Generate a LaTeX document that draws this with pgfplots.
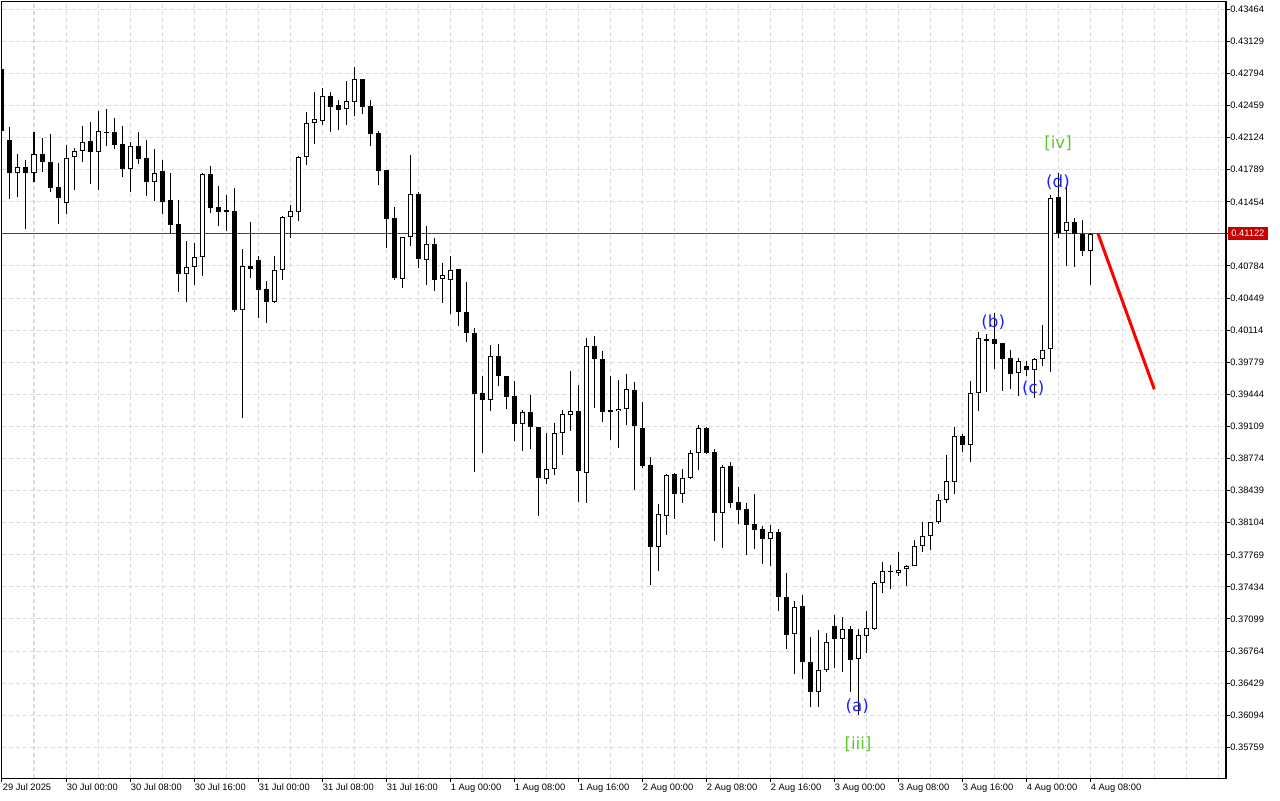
\documentclass[border=0pt]{standalone}
\usepackage{pgfplots}
\pgfplotsset{compat=1.18}
\usepackage{pgfplotstable}
\usepackage{fontspec}
\setmainfont{Liberation Sans}
\newfontfamily\annfont{DejaVu Sans}
\definecolor{gridc}{RGB}{218,218,218}
\definecolor{pricel}{RGB}{150,40,40}
\definecolor{pricebox}{RGB}{200,0,0}
\definecolor{wavegreen}{RGB}{90,200,40}
\definecolor{waveblue}{RGB}{30,30,255}

% bearish (black) candles: k open high low close
\pgfplotstableread{
k o h l c
0 0.42838 0.42851 0.42193 0.42197
1 0.42104 0.42238 0.41480 0.41758
3 0.41815 0.41891 0.41167 0.41752
5 0.41950 0.42124 0.41769 0.41867
6 0.41867 0.42162 0.41560 0.41602
7 0.41609 0.41859 0.41226 0.41491
11 0.42089 0.42287 0.41643 0.41977
13 0.42183 0.42423 0.42040 0.42173
14 0.42180 0.42329 0.42009 0.42050
15 0.42055 0.42246 0.41716 0.41800
17 0.42034 0.42183 0.41852 0.41898
18 0.41908 0.42100 0.41518 0.41664
20 0.41776 0.41891 0.41330 0.41455
21 0.41473 0.41752 0.41125 0.41215
22 0.41223 0.41473 0.40516 0.40704
26 0.41745 0.41828 0.41341 0.41393
27 0.41400 0.41619 0.41205 0.41351
28 0.41366 0.41525 0.41153 0.41351
29 0.41358 0.41598 0.40307 0.40328
31 0.40781 0.41243 0.40662 0.40750
32 0.40844 0.40889 0.40244 0.40537
33 0.40544 0.40628 0.40192 0.40411
41 0.42559 0.42601 0.42186 0.42447
42 0.42465 0.42514 0.42207 0.42413
45 0.42736 0.42740 0.42374 0.42447
46 0.42451 0.42514 0.42040 0.42165
47 0.42173 0.42197 0.41633 0.41773
48 0.41786 0.41789 0.40975 0.41278
49 0.41285 0.41400 0.40638 0.40659
52 0.41533 0.41557 0.40760 0.40852
54 0.41011 0.41073 0.40526 0.40641
57 0.40750 0.40753 0.40161 0.40301
58 0.40301 0.40617 0.39994 0.40088
59 0.40081 0.40137 0.38637 0.39451
60 0.39458 0.39636 0.38835 0.39388
62 0.39841 0.39967 0.39534 0.39639
63 0.39633 0.39640 0.39294 0.39420
64 0.39424 0.39584 0.38960 0.39138
66 0.39257 0.39437 0.38877 0.39106
67 0.39103 0.39106 0.38177 0.38574
72 0.39270 0.39542 0.38323 0.38647
74 0.39949 0.40053 0.39305 0.39816
75 0.39813 0.39897 0.39159 0.39263
76 0.39276 0.39636 0.38971 0.39265
79 0.39486 0.39570 0.38449 0.39117
80 0.39093 0.39364 0.38672 0.38699
81 0.38703 0.38787 0.37457 0.37854
84 0.38609 0.38626 0.38146 0.38407
88 0.39090 0.39103 0.38821 0.38835
89 0.38839 0.38870 0.37916 0.38202
91 0.38693 0.38735 0.38261 0.38313
92 0.38317 0.38474 0.38094 0.38240
93 0.38244 0.38310 0.37770 0.38085
94 0.38087 0.38404 0.37833 0.38033
95 0.38035 0.38073 0.37676 0.37939
97 0.38004 0.38035 0.37185 0.37325
98 0.37325 0.37576 0.36789 0.36935
100 0.37231 0.37349 0.36469 0.36647
101 0.36647 0.36911 0.36177 0.36340
104 0.37023 0.37141 0.36587 0.36893
106 0.36991 0.37029 0.36337 0.36674
111 0.37598 0.37659 0.37412 0.37587
120 0.39009 0.39027 0.38842 0.38912
123 0.40019 0.40077 0.39469 0.40004
124 0.40022 0.40290 0.39712 0.39973
125 0.39977 0.39980 0.39482 0.39816
126 0.39820 0.39904 0.39503 0.39660
128 0.39737 0.39792 0.39639 0.39695
132 0.41501 0.41752 0.41073 0.41132
134 0.41240 0.41282 0.40777 0.41121
135 0.41121 0.41264 0.40892 0.40941
}\bear

% bullish (white) candles: k open high low close
\pgfplotstableread{
k o h l c
2 0.41752 0.41950 0.41501 0.41815
4 0.41752 0.42183 0.41661 0.41950
8 0.41439 0.42044 0.41330 0.41908
9 0.41919 0.42013 0.41581 0.41985
10 0.41985 0.42246 0.41873 0.42076
12 0.41971 0.42402 0.41581 0.42190
16 0.41800 0.42076 0.41560 0.42034
19 0.41664 0.42002 0.41466 0.41758
23 0.40704 0.41045 0.40411 0.40771
24 0.40771 0.41024 0.40586 0.40875
25 0.40875 0.41752 0.40683 0.41745
30 0.40322 0.40962 0.39200 0.40781
34 0.40411 0.40889 0.40401 0.40739
35 0.40739 0.41309 0.40641 0.41293
36 0.41293 0.41421 0.41080 0.41358
37 0.41345 0.41936 0.41257 0.41919
38 0.41919 0.42395 0.41842 0.42274
39 0.42274 0.42601 0.42061 0.42316
40 0.42301 0.42639 0.42259 0.42559
43 0.42420 0.42716 0.42259 0.42504
44 0.42499 0.42865 0.42353 0.42736
50 0.40652 0.41090 0.40558 0.41087
51 0.41084 0.41940 0.40996 0.41533
53 0.40850 0.41202 0.40589 0.41011
55 0.40645 0.40815 0.40401 0.40687
56 0.40635 0.40889 0.40286 0.40739
61 0.39388 0.39962 0.39273 0.39841
65 0.39138 0.39281 0.38856 0.39257
68 0.38557 0.39041 0.38511 0.38662
69 0.38662 0.39142 0.38599 0.39037
70 0.39044 0.39281 0.38809 0.39236
71 0.39225 0.39688 0.39065 0.39267
73 0.38628 0.40029 0.38313 0.39946
77 0.39267 0.39591 0.38879 0.39296
78 0.39294 0.39653 0.39127 0.39497
82 0.37854 0.38299 0.37603 0.38192
83 0.38177 0.38609 0.37979 0.38604
85 0.38407 0.38662 0.38313 0.38568
86 0.38574 0.38863 0.38560 0.38829
87 0.38829 0.39121 0.38657 0.39090
90 0.38202 0.38703 0.37843 0.38686
96 0.37929 0.38075 0.37655 0.38004
99 0.36939 0.37287 0.36528 0.37221
102 0.36334 0.36981 0.36183 0.36563
103 0.36563 0.36949 0.36542 0.36856
105 0.36893 0.37117 0.36549 0.36991
107 0.36684 0.36994 0.36097 0.36929
108 0.36918 0.37182 0.36747 0.37002
109 0.36998 0.37492 0.36989 0.37471
110 0.37471 0.37694 0.37373 0.37597
112 0.37582 0.37798 0.37548 0.37612
113 0.37618 0.37659 0.37446 0.37652
114 0.37655 0.37924 0.37652 0.37858
115 0.37858 0.38111 0.37801 0.37962
116 0.37962 0.38114 0.37822 0.38108
117 0.38108 0.38404 0.38087 0.38338
118 0.38338 0.38814 0.38307 0.38536
119 0.38526 0.39106 0.38404 0.39009
121 0.38912 0.39584 0.38738 0.39455
122 0.39455 0.40092 0.39273 0.40029
127 0.39664 0.39820 0.39430 0.39792
129 0.39695 0.39827 0.39409 0.39810
130 0.39810 0.40168 0.39743 0.39904
131 0.39914 0.41525 0.39674 0.41491
133 0.41153 0.41630 0.40787 0.41240
136 0.40941 0.41125 0.40583 0.41122
}\bull

\pgfplotsset{candle/.style={only marks, mark=text, text mark={}, error bars/.cd, y dir=plus, y explicit, error mark=none}}

\begin{document}
\begin{tikzpicture}
\path[use as bounding box] (-1.5pt,-16.5pt) rectangle (958.5pt,583.5pt);
\begin{axis}[
  at={(0pt,0pt)}, anchor=south west,
  width=918pt, height=582pt, scale only axis,
  xmin=0, xmax=153, ymin=0.35439, ymax=0.43540,
  axis line style={black, line width=0.75pt},
  xtick={0,8,...,136},
  xticklabels={29 Jul 2025,30 Jul 00:00,30 Jul 08:00,30 Jul 16:00,31 Jul 00:00,31 Jul 08:00,31 Jul 16:00,1 Aug 00:00,1 Aug 08:00,1 Aug 16:00,2 Aug 00:00,2 Aug 08:00,2 Aug 16:00,3 Aug 00:00,3 Aug 08:00,3 Aug 16:00,4 Aug 00:00,4 Aug 08:00},
  minor xtick={4,12,...,148,144,152},
  ytick={0.35759,0.36094,0.36429,0.36764,0.37099,0.37434,0.37769,0.38104,0.38439,0.38774,0.39109,0.39444,0.39779,0.40114,0.40449,0.40784,0.41119,0.41454,0.41789,0.42124,0.42459,0.42794,0.43129,0.43464},
  yticklabels={0.35759,0.36094,0.36429,0.36764,0.37099,0.37434,0.37769,0.38104,0.38439,0.38774,0.39109,0.39444,0.39779,0.40114,0.40449,0.40784,,0.41454,0.41789,0.42124,0.42459,0.42794,0.43129,0.43464},
  scaled y ticks=false,
  ytick pos=right, yticklabel pos=right,
  xtick pos=bottom,
  tick align=outside,
  major tick length=3pt, minor tick length=0pt,
  tick style={black, line width=0.75pt},
  xmajorgrids, xminorgrids, ymajorgrids,
  grid style={gridc, dash pattern=on 3pt off 2.25pt, line width=0.75pt},
  minor grid style={gridc, dash pattern=on 3pt off 2.25pt, line width=0.75pt},
  tick label style={font=\fontsize{7}{8}\selectfont, black},
  xticklabel style={anchor=north west, inner sep=0pt, xshift=0.5pt, yshift=-1.2pt},
  yticklabel style={anchor=west, inner sep=0pt},
]
% current price line
\addplot[pricel, line width=0.75pt] coordinates {(0,0.41122) (153,0.41122)};
% wicks
\addplot[candle, error bar style={black, line width=0.75pt}]
  table[x=k, y=l, y error plus expr={\thisrow{h}-\thisrow{l}}] {\bear};
\addplot[candle, error bar style={black, line width=0.75pt}]
  table[x=k, y=l, y error plus expr={\thisrow{h}-\thisrow{l}}] {\bull};
% bearish bodies
\addplot[candle, error bar style={black, line width=3.75pt}]
  table[x=k, y=c, y error plus expr={\thisrow{o}-\thisrow{c}}] {\bear};
% bullish bodies: outline then white fill
\addplot[candle, error bar style={black, line width=3.75pt}]
  table[x=k, y=o, y error plus expr={\thisrow{c}-\thisrow{o}}] {\bull};
\addplot[candle, error bar style={white, line width=2.25pt}]
  table[x=k, y expr={\thisrow{o}+0.000104}, y error plus expr={\thisrow{c}-\thisrow{o}-0.000209}] {\bull};
% forecast line
\addplot[red, line width=2.25pt] coordinates {(137,0.41122) (144.04,0.39497)};
% wave labels
\node[text=wavegreen, font=\annfont\fontsize{12.5}{14}\selectfont] at (axis cs:132,0.42068) {[iv]};
\node[text=waveblue, font=\annfont\fontsize{12.5}{14}\selectfont] at (axis cs:132,0.41661) {(d)};
\node[text=waveblue, font=\annfont\fontsize{12.5}{14}\selectfont] at (axis cs:123.9,0.40199) {(b)};
\node[text=waveblue, font=\annfont\fontsize{12.5}{14}\selectfont] at (axis cs:128.9,0.39510) {(c)};
\node[text=waveblue, font=\annfont\fontsize{12.5}{14}\selectfont] at (axis cs:106.9,0.36191) {(a)};
\node[text=wavegreen, font=\annfont\fontsize{12.5}{14}\selectfont] at (axis cs:107,0.35794) {[iii]};
\coordinate (pl) at (axis cs:153,0.41122);
\end{axis}
\draw[black, line width=1.5pt] (current axis.south east) -- (current axis.north east);
\node[fill=pricebox, text=white, font=\fontsize{7}{8}\selectfont, inner sep=0pt,
  minimum height=9.75pt, minimum width=30pt, anchor=west] at ([xshift=1.2pt]pl) {0.41122};
\end{tikzpicture}
\end{document}
